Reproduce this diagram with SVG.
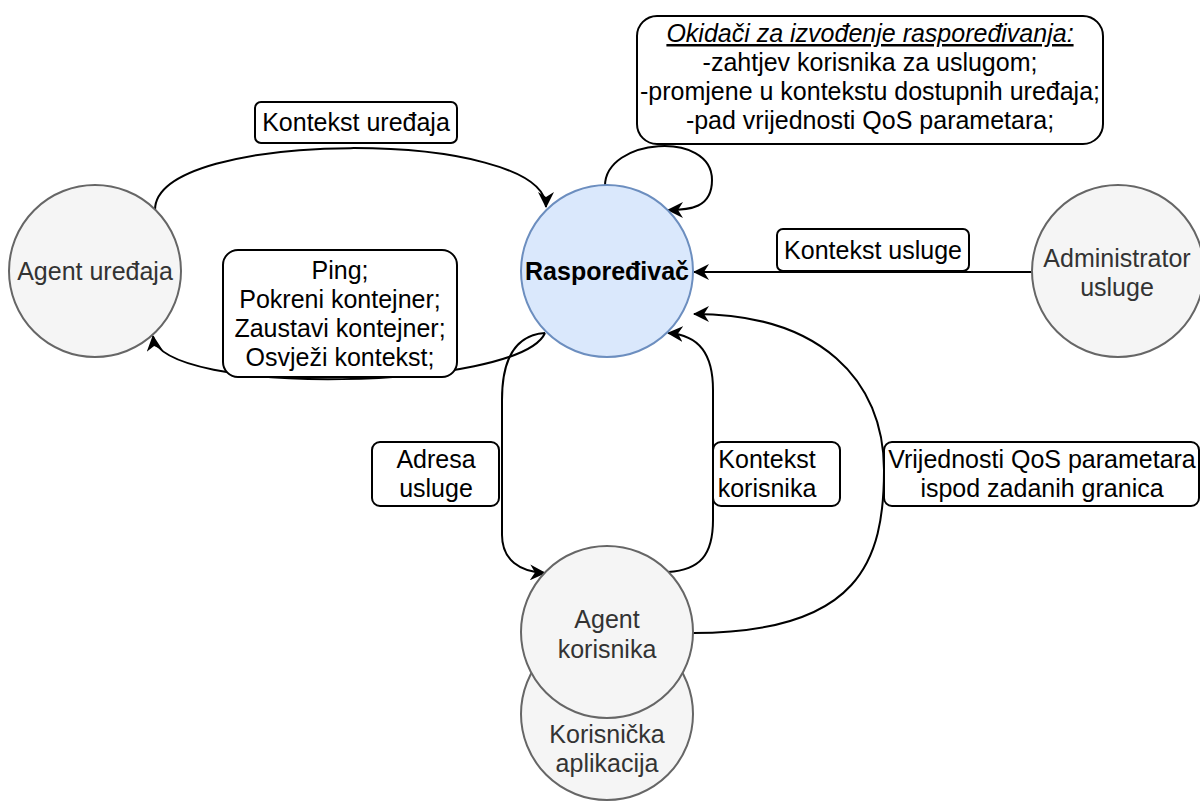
<svg xmlns="http://www.w3.org/2000/svg" width="1200" height="801" viewBox="0 0 1200 801">
<style>
.node{fill:#f5f5f5;stroke:#666666;stroke-width:2}
.main{fill:#dae8fc;stroke:#6c8ebf;stroke-width:2}
.nt{font-family:"Liberation Sans",Arial,sans-serif;font-size:25px;fill:#333333;text-anchor:middle}
.lt{font-family:"Liberation Sans",Arial,sans-serif;font-size:25px;fill:#000000;text-anchor:middle}
.lbl{fill:#ffffff;stroke:#000000;stroke-width:2}
.edge{fill:none;stroke:#000000;stroke-width:2;marker-end:url(#arr)}
</style>
<defs>
<marker id="arr" viewBox="0 0 16 16" refX="15" refY="8" markerWidth="16" markerHeight="16" markerUnits="userSpaceOnUse" orient="auto">
<path d="M0,0 L16,8 L0,16 L5,8 Z" fill="#000000"/>
</marker>
</defs>
<rect width="1200" height="801" fill="#ffffff"/>
<g id="connectors">
<path class="edge" d="M155,210 C155,128 546,128 546,207"/>
<path class="edge" d="M545,333 C520,390 160,398 153,336"/>
<path class="edge" d="M605,186 C605,138 712,130 712,180 C712,208 690,210 668,210"/>
<path class="edge" d="M1032,272 L694,272"/>
<path class="edge" d="M545,333 C515,335 502,360 502,400 L502,535 C502,560 520,572 545,573"/>
<path class="edge" d="M668,572 C700,570 713,555 713,520 L713,390 C713,355 700,335 668,333"/>
<path class="edge" d="M693,633 C860,633 884,560 884,470 C884,380 820,314 694,314"/>
</g>
<g id="label-kontekst-uredaja">
<rect class="lbl" x="255" y="102" width="202" height="41" rx="6"/>
<text class="lt" x="356" y="131">Kontekst uređaja</text>
</g>
<g id="label-okidaci">
<rect class="lbl" x="637" y="16" width="466" height="128" rx="20"/>
<text class="lt" x="870" y="42" font-style="italic" text-decoration="underline">Okidači za izvođenje raspoređivanja:</text>
<text class="lt" x="870" y="71">-zahtjev korisnika za uslugom;</text>
<text class="lt" x="870" y="100">-promjene u kontekstu dostupnih uređaja;</text>
<text class="lt" x="870" y="129">-pad vrijednosti QoS parametara;</text>
</g>
<g id="label-ping">
<rect class="lbl" x="223" y="250" width="234" height="127" rx="15"/>
<text class="lt" x="340" y="279">Ping;</text>
<text class="lt" x="340" y="308">Pokreni kontejner;</text>
<text class="lt" x="340" y="337">Zaustavi kontejner;</text>
<text class="lt" x="340" y="366">Osvježi kontekst;</text>
</g>
<g id="label-kontekst-usluge">
<rect class="lbl" x="777" y="229" width="192" height="42" rx="6"/>
<text class="lt" x="873" y="259">Kontekst usluge</text>
</g>
<g id="label-adresa">
<rect class="lbl" x="372" y="442" width="127" height="64" rx="8"/>
<text class="lt" x="436" y="468">Adresa</text>
<text class="lt" x="436" y="497">usluge</text>
</g>
<g id="label-kontekst-korisnika">
<rect class="lbl" x="713" y="442" width="127" height="64" rx="8"/>
<text class="lt" x="767" y="468">Kontekst</text>
<text class="lt" x="767" y="497">korisnika</text>
</g>
<g id="label-qos">
<rect class="lbl" x="884" y="442" width="315" height="64" rx="8"/>
<text class="lt" x="1042" y="468">Vrijednosti QoS parametara</text>
<text class="lt" x="1042" y="497">ispod zadanih granica</text>
</g>
<g id="agent-uredaja">
<circle class="node" cx="95" cy="271" r="86"/>
<text class="nt" x="95" y="280">Agent uređaja</text>
</g>
<g id="rasporedivac">
<circle class="main" cx="607" cy="271" r="86"/>
<text class="lt" x="607" y="280" font-weight="bold">Raspoređivač</text>
</g>
<g id="administrator">
<circle class="node" cx="1118" cy="271" r="86"/>
<text class="nt" x="1117" y="267">Administrator</text>
<text class="nt" x="1117" y="296">usluge</text>
</g>
<g id="korisnicka-aplikacija">
<circle class="node" cx="607" cy="714" r="86"/>
<text class="nt" x="607" y="743">Korisnička</text>
<text class="nt" x="607" y="772">aplikacija</text>
</g>
<g id="agent-korisnika">
<circle class="node" cx="607" cy="632" r="86"/>
<text class="nt" x="607" y="628">Agent</text>
<text class="nt" x="607" y="658">korisnika</text>
</g>
</svg>
